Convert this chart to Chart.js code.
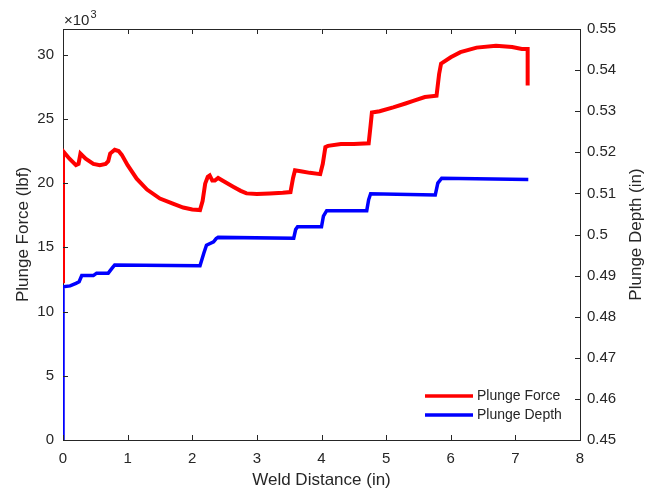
<!DOCTYPE html>
<html>
<head>
<meta charset="utf-8">
<script src="https://cdn.jsdelivr.net/npm/chart.js@4.4.0/dist/chart.umd.min.js"></script>
<style>
  html, body { margin: 0; padding: 0; background: #fff; }
</style>
</head>
<body>
<canvas id="weld-chart" width="656" height="492"></canvas>
<script>
// Plunge force (x10^3 lbf) against weld distance (in)
var forceX = [0, 0, 0.1, 0.2, 0.24, 0.27, 0.35, 0.47, 0.57, 0.66, 0.7, 0.73, 0.8, 0.86, 0.91, 1.0, 1.14, 1.3, 1.5, 1.7, 1.86, 2.0, 2.12, 2.16, 2.2, 2.24, 2.27, 2.31, 2.35, 2.4, 2.5, 2.64, 2.75, 2.84, 3.0, 3.2, 3.4, 3.52, 3.56, 3.59, 3.7, 3.82, 3.98, 4.02, 4.06, 4.1, 4.3, 4.5, 4.73, 4.76, 4.78, 4.9, 5.11, 5.3, 5.42, 5.6, 5.78, 5.82, 5.85, 6.0, 6.15, 6.4, 6.7, 6.95, 7.1, 7.19, 7.19];
var forceY = [12.2, 22.5, 21.9, 21.4, 21.5, 22.3, 21.9, 21.5, 21.4, 21.5, 21.7, 22.3, 22.6, 22.5, 22.2, 21.4, 20.35, 19.5, 18.8, 18.4, 18.1, 17.95, 17.9, 18.6, 19.96, 20.5, 20.6, 20.2, 20.2, 20.4, 20.1, 19.7, 19.4, 19.2, 19.15, 19.2, 19.25, 19.3, 20.4, 21.0, 20.9, 20.8, 20.7, 21.5, 22.8, 22.9, 23.05, 23.05, 23.1, 24.5, 25.5, 25.6, 25.9, 26.2, 26.4, 26.7, 26.8, 28.5, 29.3, 29.8, 30.2, 30.55, 30.7, 30.6, 30.45, 30.45, 27.6];

// Plunge depth (in) against weld distance (in)
var depthX = [0, 0, 0.11, 0.2, 0.25, 0.29, 0.47, 0.52, 0.7, 0.76, 0.8, 2.12, 2.18, 2.22, 2.33, 2.37, 2.4, 3.57, 3.6, 3.63, 4.0, 4.03, 4.08, 4.7, 4.73, 4.76, 5.76, 5.8, 5.86, 7.2];
var depthY = [0.45, 0.4873, 0.4875, 0.4881, 0.4885, 0.49, 0.49, 0.4906, 0.4906, 0.4918, 0.4926, 0.4924, 0.4955, 0.4974, 0.4982, 0.499, 0.4993, 0.4991, 0.5012, 0.5019, 0.5019, 0.5045, 0.5058, 0.5058, 0.5085, 0.5099, 0.5096, 0.5125, 0.5137, 0.5134];

var seriesNames = ["Plunge Force", "Plunge Depth"];
var seriesColors = ["#ff0000", "#0000ff"];
var xTicks = [0, 1, 2, 3, 4, 5, 6, 7, 8];
var yTicks = [0, 5, 10, 15, 20, 25, 30];
var y1Ticks = [0.45, 0.46, 0.47, 0.48, 0.49, 0.5, 0.51, 0.52, 0.53, 0.54, 0.55];

var axisColor = "#262626";
var fontFamily = "'Liberation Sans', Arial, Helvetica, sans-serif";
Chart.defaults.font.family = fontFamily;
Chart.defaults.color = axisColor;

function toPoints(xs, ys) {
  return xs.map(function(x, i) { return { x: x, y: ys[i] }; });
}

// MATLAB-like decorations: box, inward ticks, exponent, right label, legend
var matlabBox = {
  id: "matlabBox",
  afterDraw: function(chart) {
    var ctx = chart.ctx;
    var area = chart.chartArea;
    var sx = chart.scales.x, sy = chart.scales.y, sy1 = chart.scales.y1;
    var tl = 5;
    ctx.save();
    ctx.strokeStyle = axisColor;
    ctx.lineWidth = 1;
    ctx.beginPath();
    ctx.moveTo(area.left, Math.round(area.top) + 0.5);
    ctx.lineTo(area.right, Math.round(area.top) + 0.5);
    xTicks.forEach(function(v) {
      var px = Math.round(sx.getPixelForValue(v)) + 0.5;
      ctx.moveTo(px, area.bottom);
      ctx.lineTo(px, area.bottom - tl);
      ctx.moveTo(px, area.top);
      ctx.lineTo(px, area.top + tl);
    });
    yTicks.forEach(function(v) {
      var py = Math.round(sy.getPixelForValue(v)) + 0.5;
      ctx.moveTo(area.left, py);
      ctx.lineTo(area.left + tl, py);
    });
    y1Ticks.forEach(function(v) {
      var py = Math.round(sy1.getPixelForValue(v)) + 0.5;
      ctx.moveTo(area.right, py);
      ctx.lineTo(area.right - tl, py);
    });
    ctx.stroke();

    // exponent label
    ctx.fillStyle = axisColor;
    ctx.textBaseline = "alphabetic";
    ctx.textAlign = "left";
    ctx.font = "15px " + fontFamily;
    ctx.fillText("\u00d710", area.left + 1, 25);
    var w = ctx.measureText("\u00d710").width;
    ctx.font = "11px " + fontFamily;
    ctx.fillText("3", area.left + 1 + w + 1, 18);

    // right axis title, reading bottom to top
    ctx.save();
    ctx.translate(636, (area.top + area.bottom) / 2);
    ctx.rotate(-Math.PI / 2);
    ctx.textAlign = "center";
    ctx.textBaseline = "middle";
    ctx.font = "17px " + fontFamily;
    ctx.fillText("Plunge Depth (in)", 0, 0);
    ctx.restore();

    // legend
    ctx.font = "14px " + fontFamily;
    ctx.textBaseline = "middle";
    ctx.lineWidth = 3.5;
    seriesNames.forEach(function(name, i) {
      var ly = 396 + i * 19;
      ctx.strokeStyle = seriesColors[i];
      ctx.beginPath();
      ctx.moveTo(425, ly);
      ctx.lineTo(473, ly);
      ctx.stroke();
      ctx.fillStyle = axisColor;
      ctx.fillText(name, 477, ly);
    });
    ctx.restore();
  }
};

var weldChart = new Chart(document.getElementById("weld-chart").getContext("2d"), {
  type: "line",
  data: {
    datasets: [{
      label: seriesNames[0],
      data: toPoints(forceX, forceY),
      yAxisID: "y",
      borderColor: seriesColors[0],
      borderWidth: 4,
      pointRadius: 0,
      tension: 0
    }, {
      label: seriesNames[1],
      data: toPoints(depthX, depthY),
      yAxisID: "y1",
      borderColor: seriesColors[1],
      borderWidth: 3.5,
      pointRadius: 0,
      tension: 0
    }]
  },
  options: {
    responsive: false,
    animation: false,
    layout: { padding: { top: 29, left: 0, right: 0, bottom: 0 } },
    plugins: {
      legend: { display: false },
      tooltip: { enabled: false }
    },
    scales: {
      x: {
        type: "linear",
        position: "bottom",
        min: 0,
        max: 8,
        afterBuildTicks: function(scale) {
          scale.ticks = xTicks.map(function(v) { return { value: v }; });
        },
        ticks: { font: { size: 15 }, color: axisColor, padding: 10, maxRotation: 0 },
        grid: { display: false, drawTicks: false },
        border: { display: true, color: axisColor, width: 1 },
        title: { display: true, text: "Weld Distance (in)", font: { size: 17 }, color: axisColor, padding: { top: 0, bottom: 1 } },
        afterFit: function(scale) { scale.height = 52; }
      },
      y: {
        type: "linear",
        position: "left",
        min: 0,
        max: 32,
        afterBuildTicks: function(scale) {
          scale.ticks = yTicks.map(function(v) { return { value: v }; });
        },
        ticks: { font: { size: 15 }, color: axisColor, padding: 9 },
        grid: { display: false, drawTicks: false },
        border: { display: true, color: axisColor, width: 1 },
        title: { display: true, text: "Plunge Force (lbf)", font: { size: 17 }, color: axisColor, padding: { top: 13, bottom: 0 } },
        afterFit: function(scale) { scale.width = 63; }
      },
      y1: {
        type: "linear",
        position: "right",
        min: 0.45,
        max: 0.55,
        afterBuildTicks: function(scale) {
          scale.ticks = y1Ticks.map(function(v) { return { value: v }; });
        },
        ticks: {
          font: { size: 15 },
          color: axisColor,
          padding: 7,
          callback: function(v) { return String(+Number(v).toFixed(2)); }
        },
        grid: { display: false, drawTicks: false },
        border: { display: true, color: axisColor, width: 1 },
        afterFit: function(scale) { scale.width = 76; }
      }
    }
  },
  plugins: [matlabBox]
});
</script>
</body>
</html>
